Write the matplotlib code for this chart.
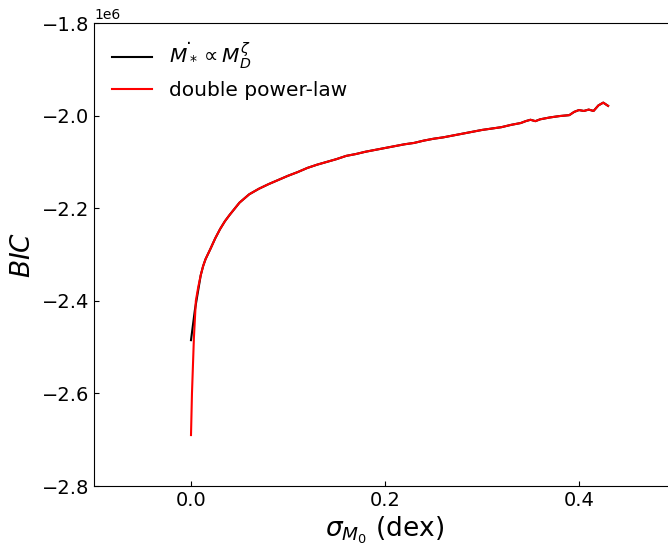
import matplotlib
matplotlib.use("Agg")
import matplotlib.pyplot as plt

# ----------------- DATA -----------------
# sigma_M0 grid (dex) for the double power-law fit
red_x = [0.0, 0.001, 0.003, 0.005, 0.0075, 0.01, 0.0125, 0.015, 0.02, 0.025,
         0.03, 0.035, 0.04, 0.05, 0.06, 0.07, 0.08, 0.09, 0.10, 0.11,
         0.12, 0.13, 0.14, 0.15, 0.16, 0.17, 0.18, 0.19, 0.20, 0.21,
         0.22, 0.23, 0.24, 0.25, 0.26, 0.27, 0.28, 0.29, 0.30, 0.31,
         0.32, 0.33, 0.34, 0.345, 0.35, 0.355, 0.36, 0.37, 0.38, 0.39,
         0.395, 0.40, 0.405, 0.41, 0.415, 0.42, 0.425, 0.43]
red_bic = [-2.69, -2.60, -2.48, -2.40, -2.37, -2.345, -2.325, -2.31, -2.288, -2.265,
           -2.245, -2.228, -2.214, -2.188, -2.170, -2.158, -2.148, -2.139, -2.130, -2.122,
           -2.113, -2.106, -2.100, -2.094, -2.087, -2.083, -2.078, -2.074, -2.070, -2.066,
           -2.062, -2.059, -2.054, -2.050, -2.047, -2.043, -2.039, -2.035, -2.031, -2.028,
           -2.025, -2.020, -2.016, -2.012, -2.009, -2.012, -2.008, -2.004, -2.001, -1.999,
           -1.992, -1.988, -1.990, -1.987, -1.990, -1.978, -1.972, -1.979]

# single power-law: own first points, then identical to the red curve
black_x = [0.0, 0.004] + red_x[5:]
black_bic = [-2.485, -2.42] + red_bic[5:]

SCALE = 1e6


def main():
    fig = plt.figure(figsize=(6.68, 5.48), dpi=100)
    ax = fig.add_axes([94 / 668, 62 / 548, 582 / 668, 463 / 548])

    ax.plot(black_x, [v * SCALE for v in black_bic], color="black", lw=1.5,
            label=r"$\dot{M_*} \propto M_D^{\zeta}$")
    ax.plot(red_x, [v * SCALE for v in red_bic], color="red", lw=1.5,
            label="double power-law")

    ax.set_xlim(-0.1, 0.5)
    ax.set_ylim(-2.8e6, -1.8e6)
    ax.set_xticks([0.0, 0.2, 0.4])
    ax.set_yticks([-2.8e6, -2.6e6, -2.4e6, -2.2e6, -2.0e6, -1.8e6])
    ax.tick_params(direction="in", labelsize=14)

    ax.set_xlabel(r"$\sigma_{M_0}$ (dex)", fontsize=19, labelpad=3)
    ax.set_ylabel(r"$BIC$", fontsize=19)
    ax.legend(loc="upper left", frameon=False, fontsize=14.5)

    fig.savefig("out.png", dpi=100)
    plt.close(fig)


if __name__ == "__main__":
    main()
